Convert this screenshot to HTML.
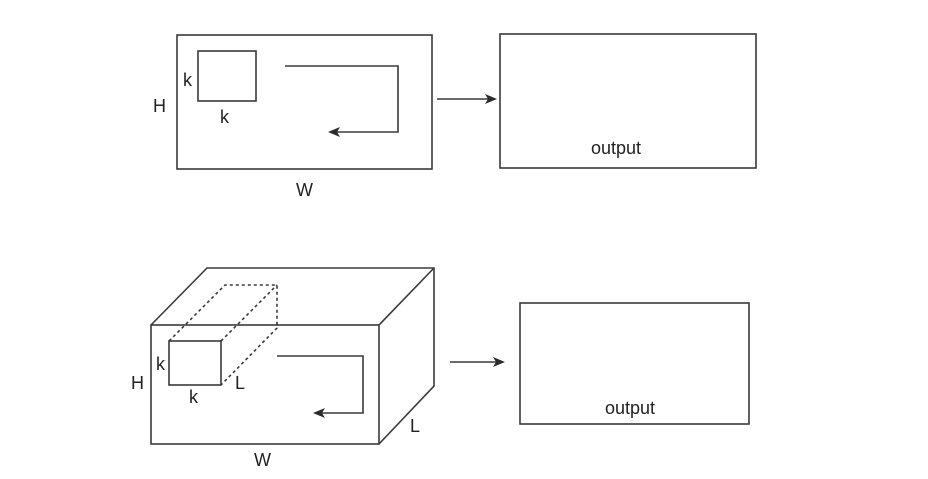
<!DOCTYPE html>
<html><head><style>html,body{margin:0;padding:0;background:#fff}svg{display:block}</style></head>
<body>
<svg width="928" height="479" viewBox="0 0 928 479" xmlns="http://www.w3.org/2000/svg" font-family="Liberation Sans, sans-serif" font-size="18" fill="#333">
<defs><marker id="a" markerWidth="12" markerHeight="10" refX="10" refY="5" orient="auto" markerUnits="userSpaceOnUse"><path d="M0,0 L12,5 L0,10 L3,5 Z" fill="#2b2b2b"/></marker></defs>
<g stroke="#3a3a3a" stroke-width="1.6" fill="none">
<rect x="177" y="35" width="255" height="134"/>
<rect x="198" y="51" width="58" height="50"/>
<polyline points="285,66 398,66 398,132 330,132" marker-end="url(#a)"/>
<line x1="437" y1="99" x2="495" y2="99" marker-end="url(#a)"/>
<rect x="500" y="34" width="256" height="134"/>
<rect x="151" y="325" width="228" height="119"/>
<polyline points="151,325 207,268 434,268 434,386 379,444"/>
<line x1="379" y1="325" x2="434" y2="268"/>
<rect x="169" y="341" width="52" height="44"/>
<g stroke-dasharray="3,3">
<polyline points="169,341 225,285 277,285 277,328 221,385"/>
<line x1="221" y1="341" x2="277" y2="285"/>
</g>
<polyline points="277,356 363,356 363,413 315,413" marker-end="url(#a)"/>
<line x1="450" y1="362" x2="503" y2="362" marker-end="url(#a)"/>
<rect x="520" y="303" width="229" height="121"/>
</g>
<g fill="#222">
<text x="183" y="86">k</text>
<text x="220" y="123">k</text>
<text x="153" y="112">H</text>
<text x="296" y="196">W</text>
<text x="591" y="154">output</text>
<text x="156" y="370">k</text>
<text x="189" y="403">k</text>
<text x="235" y="389">L</text>
<text x="131" y="389">H</text>
<text x="410" y="432">L</text>
<text x="254" y="466">W</text>
<text x="605" y="414">output</text>
</g>
</svg>
</body></html>
